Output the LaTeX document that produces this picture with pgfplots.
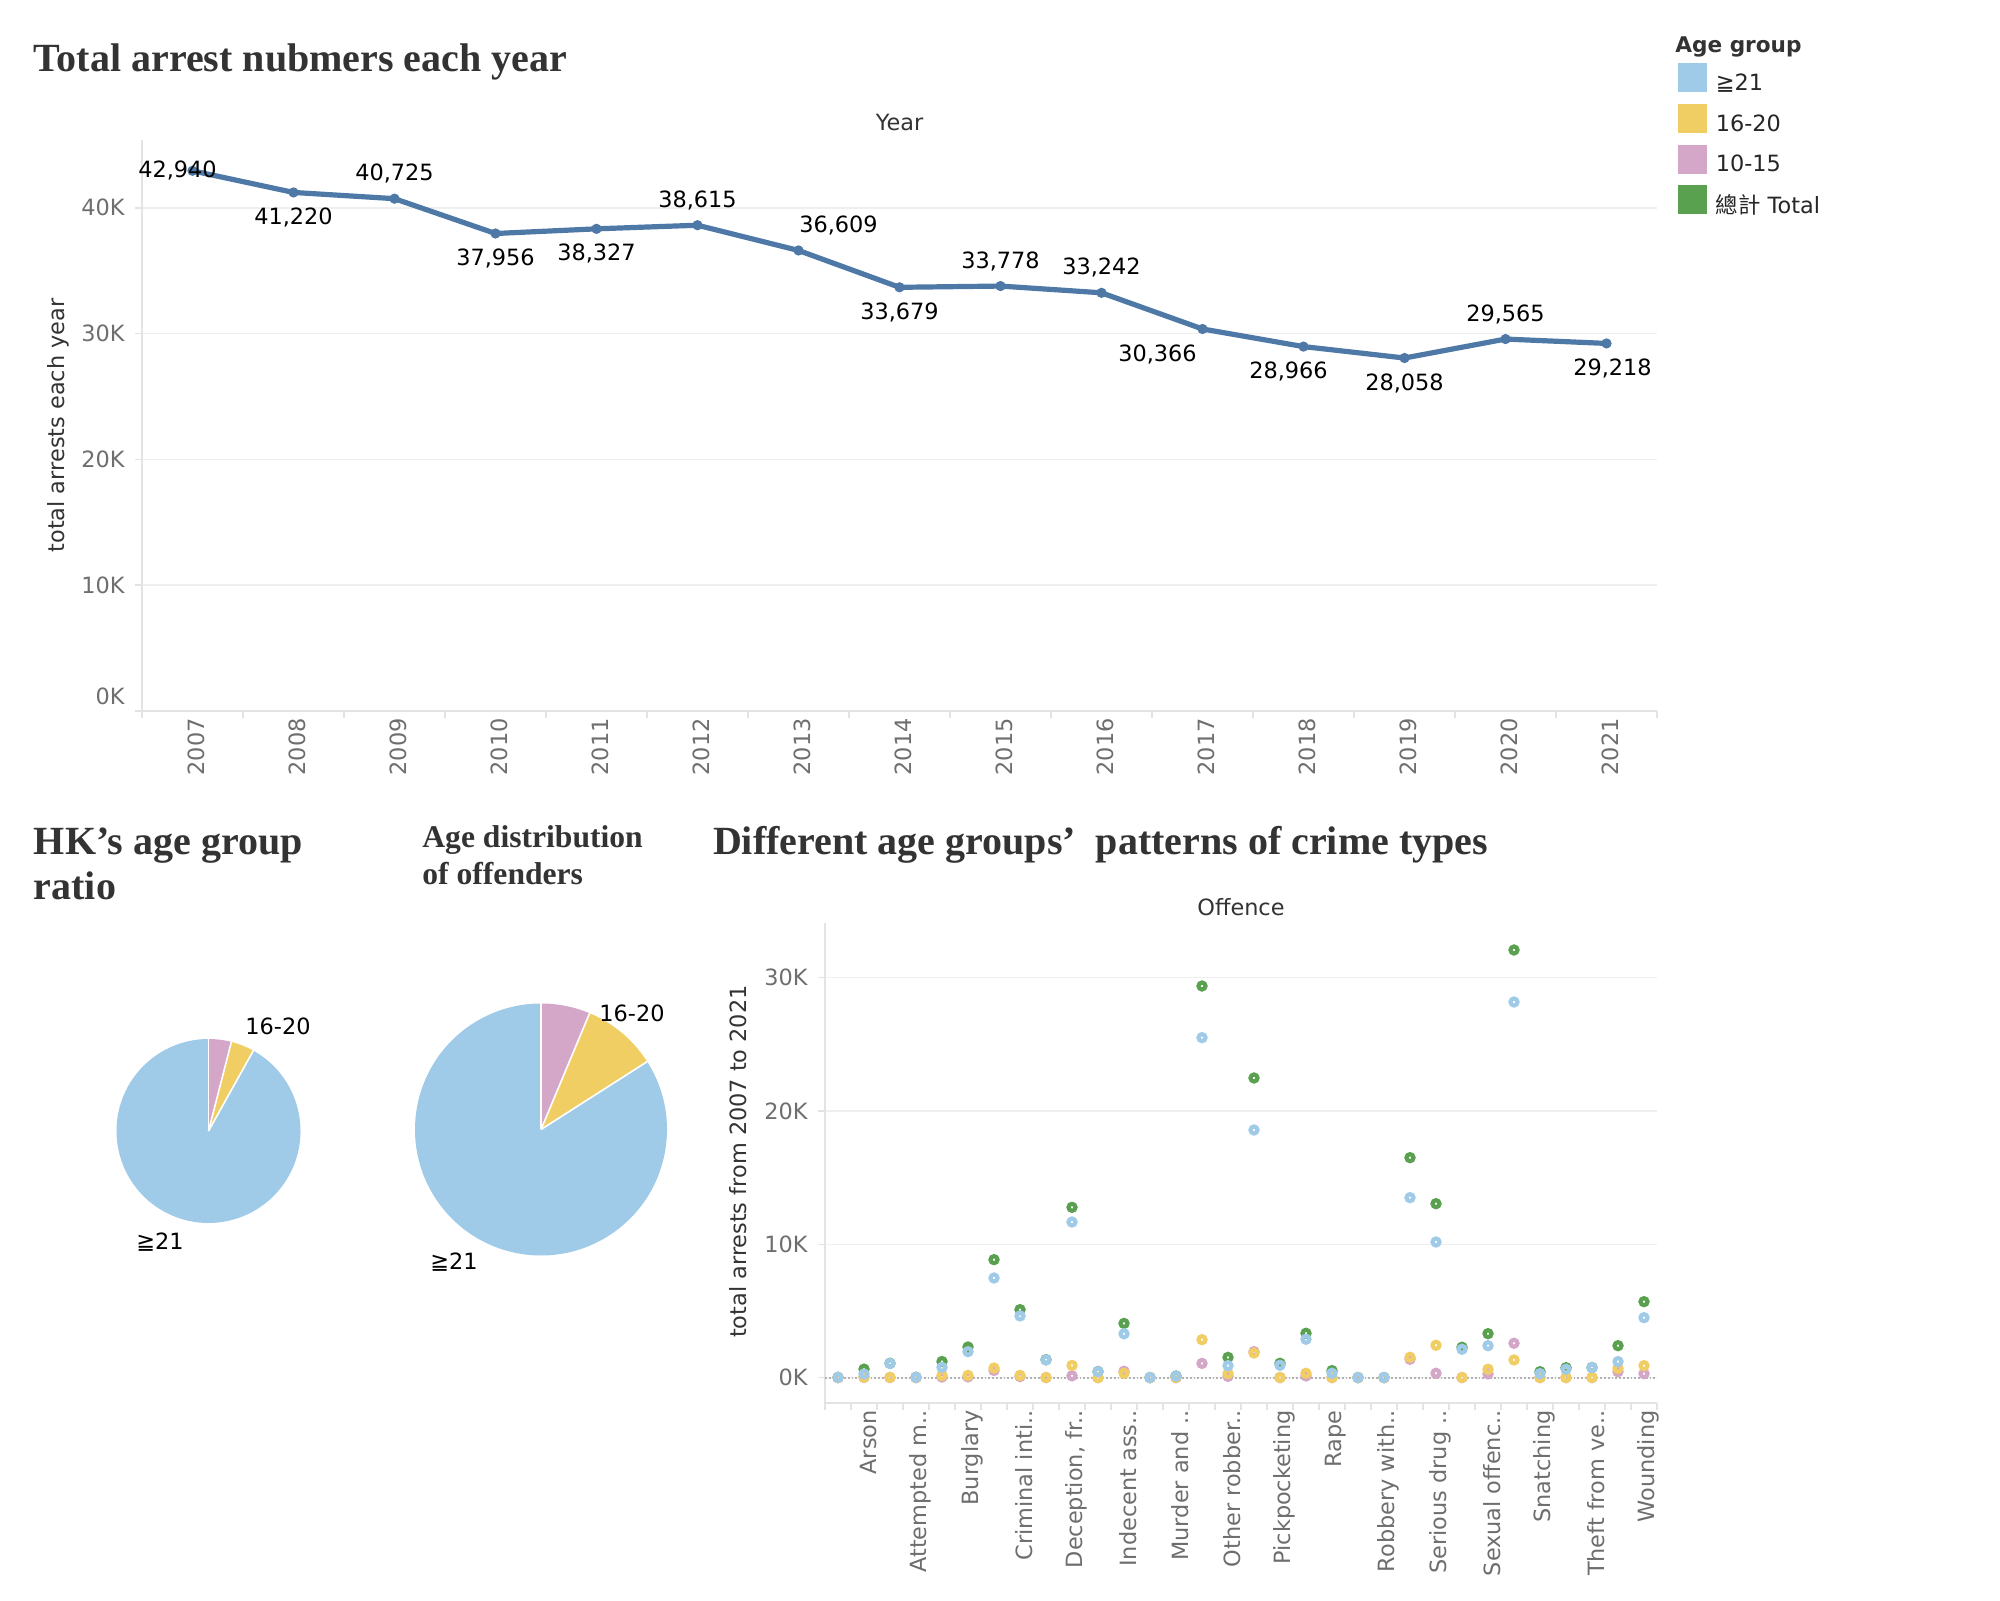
\documentclass[border=0pt]{standalone}
\usepackage{fontspec}
\usepackage{pgfplots}
\usepackage{pgfplotstable}
\pgfplotsset{compat=1.18}
\setmainfont{DejaVu Sans}
\newfontfamily\titlefont{Liberation Serif}
\newfontfamily\cjk{Noto Sans CJK TC}
\definecolor{tblue}{HTML}{A0CBE8}
\definecolor{tyellow}{HTML}{F1CE63}
\definecolor{tpink}{HTML}{D4A6C8}
\definecolor{tgreen}{HTML}{59A14F}
\definecolor{tline}{HTML}{4E79A7}
\definecolor{tgrid}{HTML}{EFEFEF}
\definecolor{taxis}{HTML}{E3E3E3}
\definecolor{ttick}{HTML}{6E6E6E}
\definecolor{ttitle}{HTML}{333333}

\pgfplotstableread{
i green blue yellow pink
0 20 15 5 0
1 640 270 40 20
2 1080 1060 20 10
3 30 25 3 0
4 1210 770 170 50
5 2300 1950 170 60
6 8850 7475 720 540
7 5100 4630 170 80
8 1350 1330 10 5
9 12775 11675 920 140
10 460 450 0 0
11 4070 3290 330 480
12 10 10 0 0
13 120 110 10 0
14 29375 25500 2850 1070
15 1520 900 300 100
16 22475 18575 1850 1950
17 1080 930 10 5
18 3330 2880 330 130
19 530 330 10 5
20 10 10 0 0
21 10 10 0 0
22 16500 13500 1530 1380
23 13050 10175 2430 330
24 2280 2130 10 5
25 3300 2400 630 280
26 32075 28175 1330 2580
27 450 300 10 5
28 750 630 10 5
29 760 750 10 5
30 2400 1200 700 450
31 5700 4500 900 300
}\scat

\pgfplotstableread{
group share
g1015 4.0
g1620 4.1
g21 91.9
}\pieA

\pgfplotstableread{
group share
g1015 6.3
g1620 9.65
g21 84.05
}\pieB

\pgfplotsset{
  tabaxis/.style={
    scale only axis,
    anchor=south west,
    axis lines*=left,
    axis line style={draw=taxis, line width=0.8pt},
    ymajorgrids,
    major grid style={draw=tgrid, line width=0.8pt},
    scaled y ticks=false,
    tick align=outside,
    major tick length=3.5pt,
    minor tick length=3.5pt,
    major x tick style={draw=none},
    minor x tick style={draw=taxis, line width=0.8pt},
    major y tick style={draw=taxis, line width=0.8pt},
    tick label style={font=\fontsize{11.2}{13}\selectfont, text=ttick},
    yticklabel style={inner sep=0pt, xshift=-5pt},
    xticklabel style={rotate=90, anchor=east, inner sep=0pt, yshift=-2pt},
    label style={font=\fontsize{11.2}{13}\selectfont, text=ttitle},
  },
  ring/.style={only marks, mark=o, mark size=1.75pt, mark options={line width=2.1pt, #1}, color=#1,
    legend image code/.code={\fill[#1] (0pt,-4pt) rectangle (14pt,10pt);}},
}

\begin{document}%
\fontsize{11.2}{13}\selectfont%
\pgfplotstablegetelem{0}{share}\of\pieA\pgfmathsetmacro\pAa{90-3.6*\pgfplotsretval}%
\pgfplotstablegetelem{1}{share}\of\pieA\pgfmathsetmacro\pAb{\pAa-3.6*\pgfplotsretval}%
\pgfplotstablegetelem{0}{share}\of\pieB\pgfmathsetmacro\pBa{90-3.6*\pgfplotsretval}%
\pgfplotstablegetelem{1}{share}\of\pieB\pgfmathsetmacro\pBb{\pBa-3.6*\pgfplotsretval}%
\begin{tikzpicture}
\useasboundingbox (0,0) rectangle (1000pt,800pt);

% ---------------- titles ----------------
\node[anchor=base west, inner sep=0pt, text=ttitle, font=\titlefont\bfseries\fontsize{20}{24}\selectfont] at (16.75pt,764.15pt) {Total arrest nubmers each year};
\node[anchor=base west, inner sep=0pt, text=ttitle, font=\titlefont\bfseries\fontsize{20}{24}\selectfont] at (16.75pt,372.5pt) {HK’s age group};
\node[anchor=base west, inner sep=0pt, text=ttitle, font=\titlefont\bfseries\fontsize{20}{24}\selectfont] at (16.75pt,350pt) {ratio};
\node[anchor=base west, inner sep=0pt, text=ttitle, font=\titlefont\bfseries\fontsize{15.8}{18}\selectfont] at (211pt,376pt) {Age distribution};
\node[anchor=base west, inner sep=0pt, text=ttitle, font=\titlefont\bfseries\fontsize{15.8}{18}\selectfont] at (211pt,357.5pt) {of offenders};
\node[anchor=base west, inner sep=0pt, text=ttitle, font=\titlefont\bfseries\fontsize{20}{24}\selectfont] at (356.3pt,372.5pt) {Different age groups’\ \ patterns of crime types};

% headers
\node[anchor=center, inner sep=0pt, text=ttitle] at (449.75pt,738.75pt) {Year};
\node[anchor=center, inner sep=0pt, text=ttitle] at (620.5pt,346.5pt) {Offence};

% legend title
\node[anchor=base west, inner sep=0pt, text=ttitle, font=\bfseries\fontsize{10.8}{13}\selectfont] at (837.5pt,773.6pt) {Age group};

% ---------------- line chart ----------------
\begin{axis}[tabaxis,
  at={(71pt,444.5pt)}, width=757.5pt, height=285.5pt,
  xmin=2006.5, xmax=2021.5, ymin=0, ymax=45390,
  xtick={2007,2008,2009,2010,2011,2012,2013,2014,2015,2016,2017,2018,2019,2020,2021},
  xticklabels={2007,2008,2009,2010,2011,2012,2013,2014,2015,2016,2017,2018,2019,2020,2021},
  minor xtick={2006.5,2007.5,...,2021.5},
  ytick={0,10000,20000,30000,40000},
  yticklabels={\raisebox{15pt}{0K},10K,20K,30K,40K},
  ylabel={total arrests each year},
  ylabel style={at={(axis description cs:-0.05545,0.5)}, anchor=center},
  clip=false,
]
\addplot[tline, line width=2.6pt, mark=*, mark size=2.3pt,
  mark options={fill=tline, draw=tline, line width=0.5pt},
  point meta=explicit,
  nodes near coords={\pgfmathprintnumber[fixed,precision=0,1000 sep={,},assume math mode=true]{\pgfplotspointmeta}},
  visualization depends on={value \thisrow{pos}\as\lpos},
  visualization depends on={value \thisrow{dx}\as\ldx},
  every node near coord/.append style={anchor=center, inner sep=0pt, text=black,
     font=\fontsize{11.2}{13}\selectfont, yshift={\lpos*12.5pt}, xshift={\ldx*0.5pt}},
] table[x=year, y=total, meta=total] {
year total pos dx
2007 42940 0 -15
2008 41220 -1 0
2009 40725 1 0
2010 37956 -1 0
2011 38327 -1 0
2012 38615 1 0
2013 36609 1 40
2014 33679 -1 0
2015 33778 1 0
2016 33242 1 0
2017 30366 -1 -45
2018 28966 -1 -15
2019 28058 -1 0
2020 29565 1 0
2021 29218 -1 6
};
\end{axis}

% ---------------- scatter ----------------
\begin{axis}[tabaxis,
  at={(412.5pt,98.5pt)}, width=416pt, height=240pt,
  xmin=-0.5, xmax=31.5, ymin=-1900, ymax=34100,
  xtick={0,1,...,31},
  xticklabels={,Arson,,Attempted m..,,Burglary,,Criminal inti..,,{Deception, fr..},,Indecent ass..,,Murder and ..,,Other robber..,,Pickpocketing,,Rape,,Robbery with..,,Serious drug ..,,Sexual offenc..,,Snatching,,Theft from ve..,,Wounding},
  minor xtick={-0.5,0.5,...,31.5},
  ytick={0,10000,20000,30000},
  yticklabels={0K,10K,20K,30K},
  ylabel={total arrests from 2007 to 2021},
  ylabel style={at={(axis description cs:-0.1046,0.503)}, anchor=center},
  clip=false,
  legend style={at={(axis description cs:1.02524,2.7907)}, anchor=north west,
    draw=none, fill=none, inner sep=0pt, outer sep=0pt, row sep=5.1pt, column sep=4.5pt,
    font=\fontsize{11.2}{13}\selectfont, nodes={inner sep=0pt, text=black!85}},
  legend cell align=left, reverse legend,
]
\addplot[black!30, densely dotted, line width=0.9pt, forget plot] coordinates {(-0.5,0) (31.5,0)};
\addplot[ring=tgreen] table[x=i, y=green] {\scat};
\addlegendentry{{\cjk 總計} Total}
\addplot[ring=tpink] table[x=i, y=pink] {\scat};
\addlegendentry{10-15}
\addplot[ring=tyellow] table[x=i, y=yellow] {\scat};
\addlegendentry{16-20}
\addplot[ring=tblue] table[x=i, y=blue] {\scat};
\addlegendentry{≧21}
\end{axis}

% ---------------- pie 1 ----------------
\begin{axis}[at={(104.25pt,234.5pt)}, anchor=center, scale only axis, width=92pt, height=92pt,
  hide axis, xmin=-1, xmax=1, ymin=-1, ymax=1, clip=false]
\fill[tblue] (axis cs:0,0) -- ++(\pAb:46pt) arc[start angle=\pAb, end angle=-270, radius=46pt] -- cycle;
\fill[tpink] (axis cs:0,0) -- ++(90:46pt) arc[start angle=90, end angle=\pAa, radius=46pt] -- cycle;
\fill[tyellow] (axis cs:0,0) -- ++(\pAa:46pt) arc[start angle=\pAa, end angle=\pAb, radius=46pt] -- cycle;
\draw[white, line width=0.8pt] (axis cs:0,0) -- ++(90:46.5pt);
\draw[white, line width=0.8pt] (axis cs:0,0) -- ++(\pAa:46.5pt);
\draw[white, line width=0.8pt] (axis cs:0,0) -- ++(\pAb:46.5pt);
\end{axis}

% ---------------- pie 2 ----------------
\begin{axis}[at={(270.5pt,235.25pt)}, anchor=center, scale only axis, width=126pt, height=126pt,
  hide axis, xmin=-1, xmax=1, ymin=-1, ymax=1, clip=false]
\fill[tblue] (axis cs:0,0) -- ++(\pBb:63pt) arc[start angle=\pBb, end angle=-270, radius=63pt] -- cycle;
\fill[tpink] (axis cs:0,0) -- ++(90:63pt) arc[start angle=90, end angle=\pBa, radius=63pt] -- cycle;
\fill[tyellow] (axis cs:0,0) -- ++(\pBa:63pt) arc[start angle=\pBa, end angle=\pBb, radius=63pt] -- cycle;
\draw[white, line width=0.8pt] (axis cs:0,0) -- ++(90:63.5pt);
\draw[white, line width=0.8pt] (axis cs:0,0) -- ++(\pBa:63.5pt);
\draw[white, line width=0.8pt] (axis cs:0,0) -- ++(\pBb:63.5pt);
\end{axis}

% pie labels
\node[anchor=center, inner sep=0pt, text=black] at (139pt,287pt) {16-20};
\node[anchor=center, inner sep=0pt, text=black] at (80pt,179pt) {≧21};
\node[anchor=center, inner sep=0pt, text=black] at (316pt,293.5pt) {16-20};
\node[anchor=center, inner sep=0pt, text=black] at (227pt,169pt) {≧21};
\end{tikzpicture}%
\end{document}
